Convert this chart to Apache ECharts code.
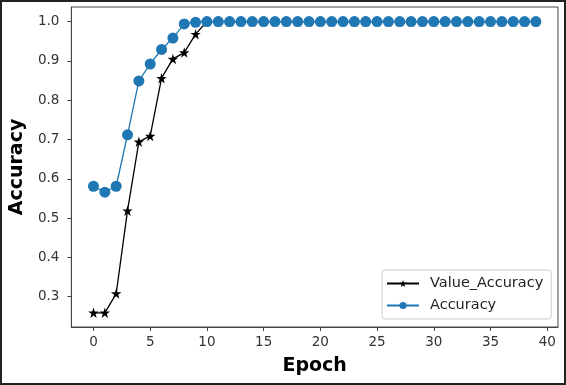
<!DOCTYPE html>
<html>
<head>
<meta charset="utf-8">
<script src="https://cdn.jsdelivr.net/npm/echarts@6/dist/echarts.min.js"></script>
<style>
html,body{margin:0;padding:0;background:#fff;}
#c{width:566px;height:385px;}
</style>
</head>
<body>
<div id="c"></div>
<script>
const epochs = [0,1,2,3,4,5,6,7,8,9,10,11,12,13,14,15,16,17,18,19,20,21,22,23,24,25,26,27,28,29,30,31,32,33,34,35,36,37,38,39];
const valueAccuracy = [0.259,0.259,0.308,0.519,0.694,0.709,0.856,0.905,0.921,0.968,1.0,1.0,1.0,1.0,1.0,1.0,1.0,1.0,1.0,1.0,1.0,1.0,1.0,1.0,1.0,1.0,1.0,1.0,1.0,1.0,1.0,1.0,1.0,1.0,1.0,1.0,1.0,1.0,1.0,1.0];
const accuracy = [0.581,0.566,0.581,0.712,0.849,0.892,0.929,0.958,0.994,0.998,1.0,1.0,1.0,1.0,1.0,1.0,1.0,1.0,1.0,1.0,1.0,1.0,1.0,1.0,1.0,1.0,1.0,1.0,1.0,1.0,1.0,1.0,1.0,1.0,1.0,1.0,1.0,1.0,1.0,1.0];
const xTicks = [0,5,10,15,20,25,30,35,40];
const yTicks = [0.3,0.4,0.5,0.6,0.7,0.8,0.9,1.0];

const star = 'path://M50,0 L61.2,34.5 L97.6,34.5 L68.2,55.9 L79.4,90.5 L50,69.1 L20.6,90.5 L31.8,55.9 L2.4,34.5 L38.8,34.5 Z';
const font = 'DejaVu Sans';
const axisCol = '#444';

const chart = echarts.init(document.getElementById('c'), null, {renderer:'canvas'});
chart.setOption({
  animation: false,
  backgroundColor: '#fff',
  grid: {left:67, right:8, top:7, bottom:58, show:true, borderColor:axisCol, borderWidth:1, containLabel:false},
  legend: {
    orient:'vertical', left:382, top:270,
    padding:[6,8,6,4], itemGap:7, itemWidth:32, itemHeight:9,
    borderColor:'#ccc', borderWidth:1, borderRadius:3, backgroundColor:'rgba(255,255,255,0.8)',
    textStyle:{fontFamily:font, fontSize:14.5, color:'#222', padding:[0,0,0,6]},
    data:['Value_Accuracy','Accuracy']
  },
  xAxis: {
    type:'value', min:-1.95, max:40.95,
    name:'Epoch', nameLocation:'middle', nameGap:30,
    nameTextStyle:{fontFamily:font, fontSize:19, fontWeight:'bold', color:'#000'},
    axisLine:{show:true, onZero:false, lineStyle:{color:axisCol}},
    axisTick:{show:true, length:4, lineStyle:{color:axisCol}, customValues:xTicks},
    axisLabel:{fontFamily:font, fontSize:13.5, color:'#333', margin:8, customValues:xTicks},
    splitLine:{show:false}
  },
  yAxis: {
    type:'value', min:0.223, max:1.037,
    name:'Accuracy', nameLocation:'middle', nameGap:42, nameRotate:90,
    nameTextStyle:{fontFamily:font, fontSize:19, fontWeight:'bold', color:'#000'},
    axisLine:{show:true, onZero:false, lineStyle:{color:axisCol}},
    axisTick:{show:true, length:4, lineStyle:{color:axisCol}, customValues:yTicks},
    axisLabel:{fontFamily:font, fontSize:13.5, color:'#333', margin:12, customValues:yTicks,
      formatter:v=>v.toFixed(1)},
    splitLine:{show:false}
  },
  series: [
    {
      name:'Value_Accuracy', type:'line', z:2,
      data: epochs.map((e,i)=>[e, valueAccuracy[i]]),
      symbol:star, symbolSize:10.5, showAllSymbol:true,
      itemStyle:{color:'#000'},
      lineStyle:{color:'#000', width:1.3}
    },
    {
      name:'Accuracy', type:'line', z:5,
      data: epochs.map((e,i)=>[e, accuracy[i]]),
      symbol:'circle', symbolSize:11, showAllSymbol:true,
      itemStyle:{color:'#1f77b4'},
      lineStyle:{color:'#1f77b4', width:1.3}
    }
  ],
  graphic: [
    {type:'rect', shape:{x:1, y:1, width:564, height:383}, style:{fill:'none', stroke:'#222', lineWidth:2}, silent:true, z:100}
  ]
});
</script>
</body>
</html>
